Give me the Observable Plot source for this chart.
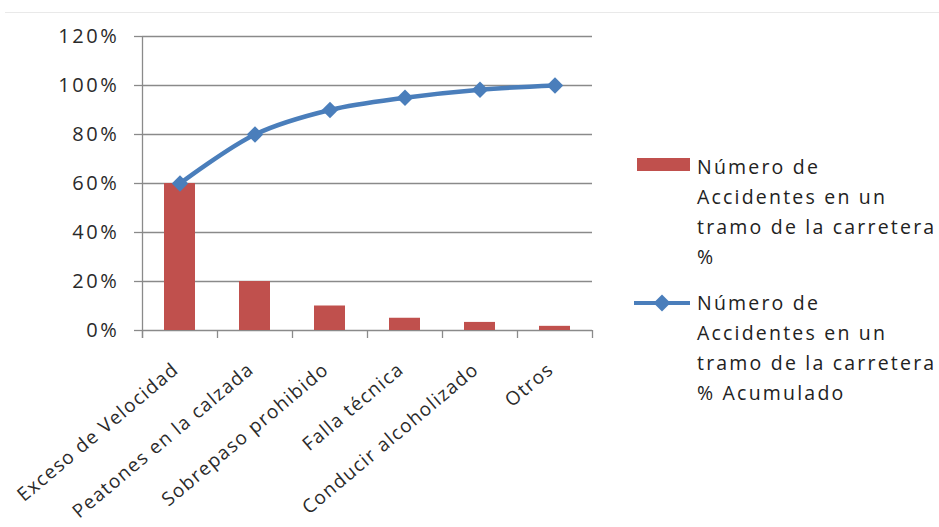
<!DOCTYPE html>
<html>
<head>
<meta charset="utf-8">
<script src="https://cdn.jsdelivr.net/npm/d3@7"></script>
<script src="https://cdn.jsdelivr.net/npm/@observablehq/plot@0.6"></script>
<style>
  html, body { margin: 0; padding: 0; background: #fff; }
  #chart { position: relative; width: 939px; height: 527px; overflow: hidden; font-family: "Open Sans", sans-serif; }
  #topline { position: absolute; left: 5px; right: 0; top: 12px; height: 1px; background: #e9e9e9; }
  g[aria-label="y-axis tick label"] text { letter-spacing: 2.6px; }
  g[aria-label="text"] text { letter-spacing: 1.3px; }
  .entry { position: absolute; left: 697px; font-size: 19.5px; line-height: 30px; letter-spacing: 2.2px; color: #222; white-space: nowrap; }
  .swatch { position: absolute; left: 637px; top: 158px; width: 53px; height: 13px; }
  .lineKey { position: absolute; left: 634px; top: 301px; width: 56px; height: 4px; }
  .diamondKey { position: absolute; left: 656px; top: 297px; width: 12px; height: 12px; transform: rotate(45deg); }
</style>
</head>
<body>
<div id="chart"><div id="topline"></div></div>
<script>
// Causes of road accidents on a stretch of highway (Pareto analysis)
const causas = ["Exceso de Velocidad", "Peatones en la calzada", "Sobrepaso prohibido", "Falla técnica", "Conducir alcoholizado", "Otros"];
const porcentaje = [0.60, 0.20, 0.10, 0.05, 0.033, 0.017];
const acumulado = [0.60, 0.80, 0.90, 0.95, 0.983, 1.00];
const yTicks = [0, 0.2, 0.4, 0.6, 0.8, 1.0, 1.2];
const serieBarras = ["Número de", "Accidentes en un", "tramo de la carretera", "%"];
const serieLinea = ["Número de", "Accidentes en un", "tramo de la carretera", "% Acumulado"];

const rojo = "#c0504d";
const azul = "#4a7ebb";
const gris = "#8a8a8a";
const texto = "#2a2a2a";

const datos = causas.map((c, i) => ({causa: c, pct: porcentaje[i], acum: acumulado[i]}));

const W = 939, H = 527;
const mL = 142, mR = 347, mT = 36, mB = 197;
const step = (W - mL - mR) / causas.length;
const plotH = H - mT - mB;

const chart = Plot.plot({
  width: W,
  height: H,
  marginLeft: mL,
  marginRight: mR,
  marginTop: mT,
  marginBottom: mB,
  style: {fontFamily: "'Open Sans', sans-serif", fontSize: "19px", color: texto, background: "transparent", overflow: "visible"},
  x: {domain: causas, paddingInner: 0.59, paddingOuter: 0.295, axis: null},
  y: {domain: [0, 1.2], axis: null},
  marks: [
    Plot.gridY(yTicks, {stroke: gris, strokeOpacity: 1, strokeWidth: 1.3}),
    Plot.axisY(yTicks, {tickSize: 8, tickPadding: 15, tickFormat: d3.format(".0%"), stroke: gris, strokeWidth: 1.3, fill: texto, fontSize: 20, label: null}),
    // vertical axis line, extended past the baseline like the category ticks
    Plot.ruleX(causas.slice(0, 1), {x: d => d, dx: -step / 2, insetBottom: -8, stroke: gris, strokeWidth: 1.3}),
    // category boundary ticks below the baseline
    Plot.ruleX(causas, {x: d => d, dx: -step / 2, insetTop: plotH, insetBottom: -8, stroke: gris, strokeWidth: 1.3}),
    Plot.ruleX(causas.slice(-1), {x: d => d, dx: step / 2, insetTop: plotH, insetBottom: -8, stroke: gris, strokeWidth: 1.3}),
    Plot.barY(datos, {x: "causa", y: "pct", fill: rojo}),
    Plot.line(datos, {x: "causa", y: "acum", stroke: azul, strokeWidth: 4.5, curve: "catmull-rom"}),
    Plot.dot(datos, {x: "causa", y: "acum", symbol: "diamond2", r: 7.4, fill: azul, stroke: "none"}),
    Plot.text(causas, {x: d => d, frameAnchor: "bottom", rotate: -40, textAnchor: "end", lineAnchor: "bottom", dy: 41, fontSize: 19, fill: texto})
  ]
});

const root = document.getElementById("chart");
root.appendChild(chart);

// legend
const sw = document.createElement("div");
sw.className = "swatch";
sw.style.background = rojo;
root.appendChild(sw);

const e1 = document.createElement("div");
e1.className = "entry";
e1.style.top = "152px";
e1.innerHTML = serieBarras.join("<br>");
root.appendChild(e1);

const lk = document.createElement("div");
lk.className = "lineKey";
lk.style.background = azul;
root.appendChild(lk);

const dk = document.createElement("div");
dk.className = "diamondKey";
dk.style.background = azul;
root.appendChild(dk);

const e2 = document.createElement("div");
e2.className = "entry";
e2.style.top = "288px";
e2.innerHTML = serieLinea.join("<br>");
root.appendChild(e2);
</script>
</body>
</html>
